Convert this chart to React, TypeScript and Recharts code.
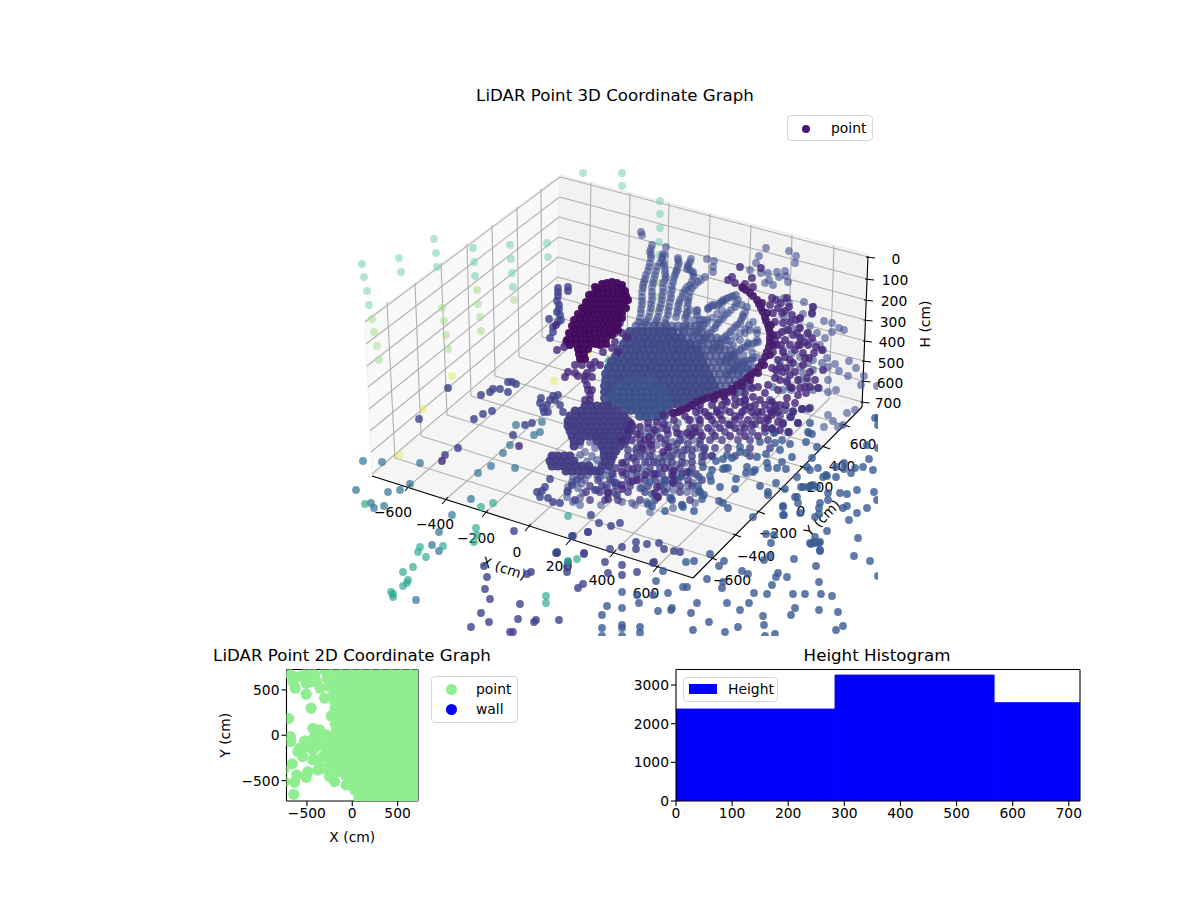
import React from 'react';
import {
  ScatterChart, Scatter, XAxis, YAxis, ReferenceLine, Customized, Legend,
  ComposedChart, Bar,
} from 'recharts';

type P = number[];
const FONT = "'DejaVu Sans', sans-serif";

/* ---------- 3D panel: points as seen in the picture plane ---------- */
const mintPoints: P[] = [[362,264],[364,277],[367,291],[369,305],[399,258],[401,272],[434,239],[436,253],[437,267],[473,248],[474,262],[475,276],[510,245],[511,259],[512,273],[513,287],[547,243],[548,257],[583,173],[622,173],[622,186],[660,201],[660,214],[660,228],[659,242],[659,255]];
const limePoints: P[] = [[372,319],[374,332],[377,346],[379,360],[477,290],[478,304],[480,317],[481,331],[514,300],[442,308],[444,321],[446,335],[448,349],[659,283],[658,297],[658,310]];
const yellowPoints: P[] = [[452,376],[554,381],[588,353],[423,409],[399,455]];
const tealPoints: P[] = [[365,504],[481,507],[493,503],[476,528],[477,535],[474,542],[443,546],[420,547],[418,552],[426,557],[413,567],[403,572],[408,580],[407,583],[403,586],[391,592],[393,594],[393,597],[546,596],[546,603],[577,559],[568,561],[568,516],[609,361],[608,367]];
const steelPoints: P[] = [[363,461],[382,462],[420,463],[356,490],[388,492],[400,490],[410,484],[371,503],[374,508],[384,506],[471,499],[452,515],[478,473],[491,466],[515,468],[432,545],[439,551],[416,600],[439,532],[542,422],[540,432],[534,435],[510,445],[503,453],[516,425]];
const indigoPoints: P[] = [[419,419],[445,455],[458,448],[474,419],[483,414],[492,411],[448,388],[481,395],[490,392],[493,389],[500,389],[508,382],[512,382],[516,384],[508,392],[513,435],[525,425],[532,423],[540,403],[543,408],[547,405],[550,400],[553,396],[548,412],[544,412],[555,400],[558,395],[541,398],[560,405],[563,412],
[484,566],[487,577],[485,589],[490,599],[481,613],[471,627],[489,622],[510,632],[513,632],[518,619],[520,604],[527,574],[531,572],[534,622],[536,620],[559,620],[556,553],[557,552],[568,562],[567,567],[567,572],[583,584],[578,588],[584,554],[573,536],[588,532],[610,549],[622,547],[605,562],[622,565],[608,573],[622,575],[637,572],[636,542],[636,549],[647,544],[664,549],[659,543],[674,551],[680,552],[654,562],[653,563],[514,531],[557,553],[584,553],[572,536],[588,532],[591,515],[599,523],[611,526],[620,523],
[550,479],[545,487],[542,491],[537,492],[540,497],[548,498],[553,502],[560,503],[568,491],[572,485],[577,480],[581,476],[595,490],[607,488],[608,493],[615,483],[617,495],[558,288],[568,287],[568,291],[558,292],[558,296],[557,301],[559,305],[559,309],[557,312],[560,315],[561,320],[558,322],[549,319],[553,327],[553,332],[550,338]];
const bluePoints: P[] = [[663,571],[686,562],[694,561],[710,554],[719,566],[724,561],[656,581],[622,592],[637,595],[653,595],[639,603],[668,593],[683,587],[687,587],[707,579],[607,606],[622,608],[602,615],[602,628],[622,625],[622,628],[640,627],[602,636],[622,636],[640,633],[658,611],[671,610],[672,608],[691,613],[697,603],[709,622],[693,630],[725,632],[738,627],[740,610],[727,603],[749,603],[763,616],[764,625],[765,636],[775,634],[754,593],[767,594],[772,585],[776,577],[778,573],[787,577],[723,582],[722,588],[742,571],[748,574],[764,560],[770,556],[794,559],[816,566],[819,582],[793,594],[805,594],[821,594],[832,596],[795,608],[791,615],[819,610],[838,612],[836,630],[843,626],[854,556],[870,561],[878,576],[858,538],[827,531],[811,544],[814,542],[819,543],[820,551],[815,537],[771,543],[774,535],[766,534],[783,506],[795,497],[798,503],[801,487],[810,487],[784,515],[823,477],[827,476],[836,477],[840,493],[847,494],[857,490],[874,492],[877,500],[867,508],[857,513],[849,520],[847,506],[843,508],[828,493],[828,500],[820,503],[819,508],[819,514],[820,542],[810,543],[815,543],[820,550],[855,468],[851,473],[873,470],[863,467],[875,418],[878,418],[878,425],[878,448],[869,459],[867,445],[844,463],[844,469],[836,467],[818,468],[826,475],[808,487],[813,485],
[810,423],[802,409],[808,409],[793,411],[790,417],[798,423],[788,432],[808,432],[812,434],[782,440],[790,444],[806,442],[817,447],[780,450],[792,457],[812,458],[807,467],[767,463],[782,462],[768,468],[777,468],[786,469],[747,467],[755,470],[746,473],[753,472],[728,468],[723,469],[725,468],[712,470],[690,472],[710,476],[699,477],[736,479],[760,486],[776,483],[785,489],[768,492],[768,495],[735,489],[720,487],[711,481],[698,486],[699,491],[704,495],[702,499],[719,501],[723,503],[728,508],[682,505],[683,507],[694,511],[665,511],[671,498],[658,497],[652,494],[648,504],[652,506],[665,482],[673,482],[673,471],[681,476],[650,482],[642,488],[657,474],[783,507],[800,513],[797,497],[783,515],[753,517],[815,517],[797,477],[803,487],[817,487],[810,470],[716,461],[723,459],[732,458],[703,467],[746,453],[757,457],[766,454],[772,428],[783,424],[775,443],[774,433],[760,442],[740,452],[740,447],[727,455]];
const rayPoints: P[] = [[652,245],[650,252],[651,258],[649,267],[646,275],[644,282],[643,288],[642,297],[642,305],[641,313],[639,322],[663,254],[662,260],[657,267],[655,275],[653,283],[652,292],[652,300],[651,308],[649,317],[645,323],[666,247],[664,263],[665,270],[666,277],[663,283],[663,292],[662,300],[660,308],[658,317],[655,323],[678,258],[679,263],[677,270],[675,275],[673,282],[672,290],[671,298],[669,307],[668,315],[665,323],[691,259],[688,265],[687,269],[693,272],[694,277],[690,285],[685,290],[682,297],[679,303],[678,310],[676,317],[698,282],[692,288],[689,297],[688,303],[687,312],[685,318],[705,277],[707,259],[714,261],[713,267],[713,272],[697,311],[697,315],[695,320],[703,320],[700,325],[736,295],[731,297],[726,299],[721,302],[717,306],[712,305],[708,309],[738,300],[735,307],[728,313],[723,318],[718,323],[715,328],[710,333],[705,338],[700,343],[747,307],[743,317],[740,323],[735,327],[730,332],[725,337],[720,342],[715,347],[758,342],[752,344],[745,347],[740,350],[735,353],[730,357],[725,360],[757,333],[750,330],[757,357],[750,360],[743,363],[738,367],[733,370],[641,232],[642,235],[766,248],[789,251],[796,256],[795,263],[759,256],[756,263],[750,270],[761,273],[768,273],[777,272],[785,271],[779,277],[786,276],[788,282],[769,280],[773,285],[765,283],[804,302],[813,307],[812,314],[803,314],[800,319],[824,321],[832,323],[839,328],[844,330],[832,332],[825,338],[810,326],[799,328],[792,328],[784,298],[789,303],[784,317],[786,330],[801,338],[807,334],[817,333],[813,342],[820,345],[823,350],[827,358],[835,364],[839,371],[848,376],[856,368],[849,361],[864,376],[861,385],[877,386],[836,390],[828,392],[819,388],[813,390],[791,390],[800,380],[807,382],[813,370],[822,363],[808,363],[800,357],[792,353],[783,350],[790,367],[780,363],[777,373],[787,380],[773,387],[783,390],[800,367],[803,373],[813,360],[828,367],[828,380],[855,410],[847,413],[843,425],[833,421],[828,415],[838,427],[824,427],[809,433],
[697,310],[700,320],[708,308],[723,302],[742,305],[743,315],[753,322],[757,330],[745,333],[757,340],[748,343],[740,340],[733,345],[727,340],[752,352],[743,355],[737,360],[730,363],[752,360],[748,368],[740,372],[733,370],[727,375],
[607,470],[605,475],[613,473],[613,477],[597,475],[593,470],[588,475],[585,480],[582,483],[578,488],[573,477],[572,482],[568,487],[567,492],[623,465],[623,475],[632,473],[630,482],[642,468],[640,480],[640,488],[647,472],[648,462],[657,463],[667,462],[677,465],[685,463],[662,482],[667,488],[673,490],[681,477],[690,473],[693,483],[687,492],[695,493],[637,453],[645,455],[653,457],[660,458],[670,457],[678,453],[687,450],[697,448],[637,447],[657,445],[673,442],[683,440],[693,440],[645,433],[657,433],[668,425],[678,423],[688,420],[698,418],[653,428],[597,490],[580,498],[583,493],[601,505],[580,505],[573,502],[567,497],[622,502],[632,503],[635,505],[647,502],[670,498],[650,512],[682,505],[695,503],[673,508],[663,490],[668,480],[688,485],[678,480],[617,483],[605,485],[612,482],[600,478],
[580,445],[590,442],[595,448],[585,452],[592,456],[580,455],[587,462],[597,460],[612,398],[608,392],[610,386]];
const rayTubes: P[] = [[651,249],[651,255],[650,263],[648,271],[645,279],[643,285],[642,292],[642,301],[641,309],[640,318],[662,257],[660,263],[656,271],[654,279],[652,287],[652,296],[651,304],[650,312],[647,320],[665,255],[664,266],[665,274],[665,280],[663,288],[662,296],[661,304],[659,312],[657,320],[678,260],[678,266],[676,272],[674,278],[672,286],[671,294],[670,302],[668,311],[666,319],[690,262],[688,267],[690,270],[693,274],[692,281],[687,287],[683,293],[680,300],[678,306],[677,313],[701,280],[695,285],[690,292],[688,300],[687,307],[686,315],[733,296],[728,298],[723,300],[719,304],[714,305],[710,307],[736,303],[731,310],[725,315],[720,320],[716,325],[712,330],[707,335],[702,340],[697,345],[745,312],[741,320],[737,325],[732,330],[727,335],[722,339],[717,344],[712,350],[755,343],[748,345],[742,348],[737,352],[732,355],[727,358],[722,362],[753,358],[746,361],[740,365],[735,368],[730,372],[749,325],[745,329],[740,333],[735,337],[730,341],[725,345],[720,349],[707,320],[703,325],[698,330],[693,335],[722,310],[717,314],[712,318],[707,323],[703,328],[698,333],[690,310],[688,318],[686,325],[683,330]];
const lowerLattice: P[] = [[625,444],[641,444],[649,444],[665,444],[677,444],[688,444],[700,444],[628,450],[636,450],[644,450],[652,450],[668,450],[676,450],[684,450],[692,450],[704,450],[628,456],[640,456],[650,456],[664,456],[672,456],[682,456],[692,456],[702,456],[712,456],[626,462],[636,462],[645,462],[654,462],[662,462],[672,462],[682,462],[692,462],[702,462],[616,468],[628,468],[638,468],[650,468],[660,468],[670,468],[680,468],[692,468],[612,474],[626,474],[637,474],[652,474],[662,474],[672,474],[682,474],[696,474],[598,480],[610,480],[628,480],[645,480],[655,480],[665,480],[675,480],[688,480],[702,480],[590,486],[602,486],[616,486],[630,486],[648,486],[660,486],[680,486],[692,486],[586,492],[600,492],[614,492],[628,492],[645,492],[665,492],[680,492],[700,492],[575,500],[590,500],[605,500],[618,500],[640,500],[655,500],[672,500],[690,500],[725,400],[745,400],[770,400],[700,410],[725,410],[745,410],[775,410],[785,410],[710,416],[735,416],[755,416],[780,416],[700,424],[715,424],[728,424],[742,424],[755,424],[765,424],[700,432],[712,432],[725,432],[740,432],[752,432],[765,432],[775,432],[700,440],[710,440],[722,440],[738,440],[750,440],[768,440],[705,448],[715,448],[728,448],[750,448],[770,448],[705,456],[712,456],[735,456],[750,456],[632,428],[648,428],[662,428],[676,428],[690,428],[628,434],[640,434],[652,434],[668,434],[680,434],[692,434],[640,440],[652,440],[666,440],[680,440]];
const fanOuter: P[] = [[678,332],[684,332],[690,332],[696,332],[702,332],[636,326],[642,326],[648,326],[654,326],[660,326],[666,326],[672,326],[678,326],[684,326],[690,326],[696,326],[687,338],[693,338],[699,338],[705,338],[711,338],[717,338],[696,344],[702,344],[708,344],[714,344],[720,344],[701,350],[707,350],[713,350],[719,350],[725,350],[731,350],[704,356],[710,356],[716,356],[722,356],[728,356],[734,356],[708,362],[714,362],[720,362],[726,362],[732,362],[738,362],[744,362],[711,368],[717,368],[723,368],[729,368],[735,368],[741,368],[747,368],[753,368],[714,374],[720,374],[726,374],[732,374],[738,374],[744,374],[750,374],[717,380],[723,380],[729,380],[735,380],[741,380],[747,380],[720,386],[726,386],[732,386],[738,386],[744,386],[750,386],[723,392],[729,392],[735,392],[741,392]];
const fanMid: P[] = [[630,332],[636,332],[642,332],[648,332],[654,332],[660,332],[666,332],[672,332],[627,338],[633,338],[639,338],[645,338],[651,338],[657,338],[663,338],[669,338],[675,338],[681,338],[624,344],[630,344],[636,344],[642,344],[648,344],[654,344],[660,344],[666,344],[672,344],[678,344],[684,344],[690,344],[619,350],[625,350],[631,350],[637,350],[643,350],[649,350],[655,350],[661,350],[667,350],[673,350],[679,350],[685,350],[691,350],[697,350],[616,356],[622,356],[628,356],[634,356],[640,356],[646,356],[652,356],[658,356],[664,356],[670,356],[676,356],[682,356],[688,356],[694,356],[700,356],[612,362],[618,362],[624,362],[630,362],[636,362],[642,362],[648,362],[654,362],[660,362],[666,362],[672,362],[678,362],[684,362],[690,362],[696,362],[702,362],[609,368],[615,368],[621,368],[627,368],[633,368],[639,368],[645,368],[651,368],[657,368],[663,368],[669,368],[675,368],[681,368],[687,368],[693,368],[699,368],[705,368],[606,374],[612,374],[618,374],[624,374],[630,374],[636,374],[642,374],[648,374],[654,374],[660,374],[666,374],[672,374],[678,374],[684,374],[690,374],[696,374],[702,374],[708,374],[606,380],[612,380],[618,380],[624,380],[657,380],[663,380],[669,380],[675,380],[681,380],[687,380],[693,380],[699,380],[705,380],[711,380],[605,386],[611,386],[666,386],[672,386],[678,386],[684,386],[690,386],[696,386],[702,386],[708,386],[714,386],[605,392],[611,392],[669,392],[675,392],[681,392],[687,392],[693,392],[699,392],[705,392],[711,392],[717,392],[605,398],[672,398],[678,398],[684,398],[690,398],[696,398],[702,398],[672,404],[678,404],[684,404],[690,404]];
const fanInner: P[] = [[630,380],[636,380],[642,380],[648,380],[620,386],[626,386],[632,386],[638,386],[644,386],[650,386],[656,386],[660,386],[617,392],[623,392],[629,392],[635,392],[641,392],[647,392],[653,392],[659,392],[665,392],[612,398],[618,398],[624,398],[630,398],[636,398],[642,398],[648,398],[654,398],[660,398],[666,398],[612,404],[618,404],[624,404],[630,404],[636,404],[642,404],[648,404],[654,404],[660,404],[666,404],[625,410],[631,410],[637,410],[643,410],[649,410],[655,410],[661,410],[667,410],[640,416],[646,416],[652,416],[658,416],[664,416]];
const fanLower: P[] = [[585,406],[591,406],[597,406],[603,406],[608,406],[575,411],[581,411],[587,411],[593,411],[599,411],[605,411],[611,411],[617,411],[570,416],[576,416],[582,416],[588,416],[594,416],[600,416],[606,416],[612,416],[618,416],[624,416],[568,421],[574,421],[580,421],[586,421],[592,421],[598,421],[604,421],[610,421],[616,421],[622,421],[628,421],[568,426],[573,426],[579,426],[585,426],[591,426],[597,426],[603,426],[609,426],[615,426],[621,426],[627,426],[632,426],[570,431],[576,431],[582,431],[588,431],[594,431],[600,431],[606,431],[612,431],[618,431],[624,431],[630,431],[572,436],[578,436],[584,436],[590,436],[596,436],[602,436],[608,436],[614,436],[620,436],[627,436],[574,441],[580,441],[597,441],[603,441],[609,441],[615,441],[621,441],[625,441],[574,446],[602,446],[608,446],[614,446],[620,446],[604,451],[610,451],[616,451],[552,456],[558,456],[564,456],[570,456],[604,456],[610,456],[613,456],[550,461],[556,461],[562,461],[568,461],[574,461],[605,461],[611,461],[552,466],[558,466],[564,466],[570,466],[576,466],[582,466],[589,466],[602,466],[609,466],[566,471],[572,471],[578,471],[584,471],[590,471],[596,471],[600,471]];
const purplePoints: P[] = [[557,350],[564,347],[566,342],[556,325],[442,461],[519,446],[603,352],[612,348],[618,352],[622,333],[627,337],[615,333],[620,323],[615,342],[582,365],[575,365],[590,365],[595,362],[600,365],[592,368],[568,372],[575,373],[565,377],[578,376],[585,376],[592,377],[587,373],[585,380],[587,385],[588,390],[590,395],[590,400],[585,400],[592,390],[740,267],[761,268],[732,277],[728,280],[735,283],[752,278],[745,284],[753,287],[742,287],
[631,423],[640,427],[648,423],[657,422],[663,415],[672,413],[680,411],[687,408],[693,406],[622,440],[632,440],[649,437],[660,438],[667,430],[677,433],[687,433],[695,432],[642,448],[651,445],[663,452],[669,447],[633,458],[622,463],[655,474],[674,471],[665,468],[633,469],[622,472],[645,475],[622,485],[622,489],[608,493],[608,499],[637,480],[633,481],[657,487],[658,497],[655,493],[673,476],[673,483],[687,472],
[700,405],[712,405],[722,405],[735,405],[745,405],[755,405],[765,405],[775,405],[705,412],[717,412],[730,412],[742,412],[752,412],[762,412],[772,412],[690,420],[700,420],[712,420],[722,420],[735,420],[748,420],[760,420],[768,420],[695,428],[708,428],[720,428],[735,428],[745,428],[690,436],[702,436],[715,436],[730,436],[745,436],[758,436],
[773,352],[778,360],[780,367],[772,368],[775,378],[780,380],[778,390],[787,382],[792,388],[787,398],[780,405],[772,402],[765,393],[768,385],[758,387],[753,397],[745,393],[740,402],[750,407],[758,412],[767,418],[778,422],[772,415],[777,345],[783,352],[790,360],[782,332],[788,330],[783,323],[775,322],[773,313],[778,308],[770,305],[772,298],[782,313],[790,322],[800,338],[805,342],[798,345],[803,353],[805,358],[793,363],[807,378],[805,387],[790,387],[798,395],[787,298],[789,307],[812,313],[813,307],[800,318],[808,333],[800,328],[816,347],[814,353],[822,350],[823,370],[809,358],[818,388],[810,387],[806,393],[800,388],[802,409],[810,408],[793,412],[791,417],[798,423],[783,423],[772,429],[780,430],[789,432],
[776,300],[781,303],[785,311],[792,315],[796,320],[793,335],[797,333],[785,340],[790,345],[795,350],[785,357],[800,345],[808,345],[812,338],[778,335],[775,340],[781,345],[786,368],[795,372],[803,365],[810,372],[815,380],[798,380],[790,375],[783,372],[776,370],[786,405],[778,412],[795,403],[770,410],[760,400],[752,388],[745,400],[735,398],[727,402],[717,410],[708,416],[696,412],[685,416],[674,420],[664,424],[655,430],[645,440],[637,434],[628,430],[720,415],[730,425],[740,416],[752,425],[765,428]];
const arcPoints: P[] = [[743,288],[746,290],[750,293],[753,296],[757,300],[759,304],[761,308],[763,312],[765,317],[766,321],[768,325],[769,329],[770,333],[770,338],[770,342],[769,347],[767,352],[765,357],[762,362],[759,367],[755,372],[751,375],[747,378],[742,382],[737,385],[732,389],[727,392],[722,393],[717,395],[712,397],[707,398],[702,400],[697,402],[692,405],[687,408],[682,410],[678,412],[674,413],[762,303],[767,313],[771,325],[773,335],[773,345],[770,355],[764,365],[758,373],[750,380],[742,386],[733,391],[724,396],[714,399]];
const blobPoints: P[] = [[602,284],[607,283],[612,282],[617,283],[622,285],[597,289],[602,289],[607,289],[612,288],[617,288],[622,289],[625,291],[593,294],[598,294],[603,294],[608,294],[613,294],[618,294],[623,294],[626,296],[591,299],[596,299],[601,299],[606,299],[611,299],[616,299],[621,299],[625,301],[588,304],[593,304],[598,304],[603,304],[608,304],[613,304],[618,304],[623,304],[585,309],[590,309],[595,309],[600,309],[605,309],[610,309],[615,309],[620,309],[583,314],[588,314],[593,314],[598,314],[603,314],[608,314],[613,314],[618,314],[622,313],[580,319],[585,319],[590,319],[595,319],[600,319],[605,319],[610,319],[615,319],[619,319],[578,324],[583,324],[588,324],[593,324],[598,324],[603,324],[608,324],[613,324],[618,324],[575,329],[580,329],[585,329],[590,329],[595,329],[600,329],[605,329],[610,329],[614,329],[574,334],[579,334],[584,334],[589,334],[594,334],[599,334],[604,334],[609,334],[571,339],[576,339],[581,339],[586,339],[591,339],[596,339],[601,339],[606,339],[576,344],[581,344],[586,344],[591,344],[596,344],[578,349],[583,349],[588,349],[579,354],[584,354],[580,359],[585,359],[595,287],[589,295],[586,302],[582,308],[578,314],[574,320],[572,326],[569,333],[567,340],[570,345],[600,345],[606,344],[612,335],[618,330],[622,318],[626,308],[628,300]];

/* ---------- 3D panel: frame ---------- */
const wallLeft: P[] = [[365,320],[560,175],[556,322],[372,476]];
const wallBack: P[] = [[560,175],[868,254],[862,407],[556,322]];
const wallFloor: P[] = [[372,476],[556,322],[862,407],[693,578]];
const heightLeft: P[] = [[365,322],[366,344],[367,366],[368,387],[369,409],[370,431],[371,452],[372,474]];
const heightBack: P[] = [[560,177],[559.5,197],[559,217],[558.5,237],[558,257],[557.5,277],[557,297],[556.5,317]];
const heightRight: P[] = [[868,257],[867,279],[866,300],[865.5,320],[865,341],[864,361],[863.5,381],[862.5,402]];
const yWallTop: P[] = [[387,302],[415,283],[441,263],[467,244],[492,225],[517,207],[541,189]];
const yFloorBack: P[] = [[395,458],[421,436],[447,415],[471,396],[495,376],[519,357],[542,337]];
const yFloorFront: P[] = [[712,558],[736,535],[760,512],[782,489],[803,467],[825,447],[845,425]];
const xFloorFront: P[] = [[408,487],[445,500],[485,513],[528,527],[569,541],[613,553],[656,568]];
const xFloorBack: P[] = [[588,331],[627,342],[666,353],[706,364],[746,375],[787,387],[829,399]];
const xWallTop: P[] = [[591,183],[630,193],[669,203],[710,214],[751,225],[792,235],[834,246]];
const axisCorners: P[] = [[372,476],[693,578],[862,407],[868,256]];

const xTickLabels = ['−600','−400','−200','0','200','400','600'];
const xTickSpots: P[] = [[393,512],[435,524],[476,538],[517,552],[559,566],[602,580],[646,593]];
const yTickLabels = ['−600','−400','−200','0','200','400','600'];
const yTickSpots: P[] = [[732,580],[756,556],[778,533],[801,511],[820,487],[842,466],[863,444]];
const hTickLabels = ['0','100','200','300','400','500','600','700'];
const hTickSpots: P[] = [[896,259],[895,280],[894,301],[893,322],[892,342],[891,363],[890,383],[888,403]];

/* ---------- 2D panel (cm) ---------- */
const scatter2dBlobs: P[] = [[-673,666],[-581,648],[-508,684],[-434,684],[-710,684],[-655,592],[-629,519],[-508,574],[-453,592],[-508,453],[-453,298],[-703,184],[-232,213],[-434,77],[-361,59],[-287,4],[-681,-15],[-681,-70],[-526,-63],[-581,-144],[-508,-125],[-434,-162],[-545,-236],[-600,-180],[-361,-107],[-379,-272],[-489,-401],[-508,-464],[-611,-438],[-662,-316],[-637,-519],[-644,-651],[-195,-511],[-66,-548],[-379,-383],[-250,-456],[-434,-272],[-287,-162],[-213,-199],[-324,-236],[-305,-364],[-416,-15],[-471,-70],[-353,-33],[-758,-383],[-747,-511],[-416,666],[-397,592],[-353,519],[-305,408],[-416,620]];
const scatter2dBody: P[] = [[-290,715],[-180,715],[-70,715],[40,715],[150,715],[260,715],[370,715],[480,715],[590,715],[700,715],[-265,630],[-125,630],[-15,630],[95,630],[205,630],[315,630],[425,630],[535,630],[645,630],[725,630],[-240,545],[-180,545],[-70,545],[40,545],[150,545],[260,545],[370,545],[480,545],[590,545],[700,545],[-190,460],[-125,460],[-15,460],[95,460],[205,460],[315,460],[425,460],[535,460],[645,460],[725,460],[-180,375],[-70,375],[40,375],[150,375],[260,375],[370,375],[480,375],[590,375],[700,375],[-180,290],[-125,290],[-15,290],[95,290],[205,290],[315,290],[425,290],[535,290],[645,290],[725,290],[-180,205],[-70,205],[40,205],[150,205],[260,205],[370,205],[480,205],[590,205],[700,205],[-175,120],[-125,120],[-15,120],[95,120],[205,120],[315,120],[425,120],[535,120],[645,120],[725,120],[-165,35],[-70,35],[40,35],[150,35],[260,35],[370,35],[480,35],[590,35],[700,35],[-240,-50],[-125,-50],[-15,-50],[95,-50],[205,-50],[315,-50],[425,-50],[535,-50],[645,-50],[725,-50],[-240,-135],[-180,-135],[-70,-135],[40,-135],[150,-135],[260,-135],[370,-135],[480,-135],[590,-135],[700,-135],[-280,-220],[-125,-220],[-15,-220],[95,-220],[205,-220],[315,-220],[425,-220],[535,-220],[645,-220],[725,-220],[-240,-305],[-180,-305],[-70,-305],[40,-305],[150,-305],[260,-305],[370,-305],[480,-305],[590,-305],[700,-305],[-180,-390],[-125,-390],[-15,-390],[95,-390],[205,-390],[315,-390],[425,-390],[535,-390],[645,-390],[725,-390],[-60,-440],[40,-475],[150,-475],[260,-475],[370,-475],[480,-475],[590,-475],[700,-475],[25,-540],[95,-560],[205,-560],[315,-560],[425,-560],[535,-560],[645,-560],[725,-560],[40,-600],[150,-645],[260,-645],[370,-645],[480,-645],[590,-645],[700,-645],[85,-690],[205,-725],[315,-725],[425,-725],[535,-725],[645,-725],[725,-725]];
const ticks2d = [-500, 0, 500];

/* ---------- Histogram ---------- */
const binCentres = [141.7, 425.2, 708.7];
const binCounts = [2377, 3256, 2540];
const histXTicks = [0, 100, 200, 300, 400, 500, 600, 700];
const histYTicks = [0, 1000, 2000, 3000];

const rows = (pts: P[]) => pts.map(([u, v]) => ({ u, v }));
const poly = (pts: P[]) => pts.map((p) => p.join(',')).join(' ');
const tickStyle = { fontSize: 13.89, fill: '#000', fontFamily: FONT };
const axisStroke = { stroke: '#000', strokeWidth: 1.1 };
const minus = (v: number) => String(v).replace('-', '−');

const seg = (a: P, b: P, key: string, color: string) => (
  <line key={key} x1={a[0]} y1={a[1]} x2={b[0]} y2={b[1]} stroke={color} strokeWidth={1.1} />
);

const Frame3d = () => (
  <g>
    <polygon points={poly(wallLeft)} fill="#f9f9f9" stroke="#f0f0f0" strokeWidth={1} />
    <polygon points={poly(wallBack)} fill="#f2f2f2" stroke="#ebebeb" strokeWidth={1} />
    <polygon points={poly(wallFloor)} fill="#f5f5f5" stroke="#f0f0f0" strokeWidth={1} />
    {heightLeft.map((p, i) => seg(p, heightBack[i], 'hl' + i, '#b0b0b0'))}
    {heightBack.map((p, i) => seg(p, heightRight[i], 'hb' + i, '#b0b0b0'))}
    {yWallTop.map((p, i) => seg(p, yFloorBack[i], 'yw' + i, '#b0b0b0'))}
    {yFloorBack.map((p, i) => seg(p, yFloorFront[i], 'yf' + i, '#b0b0b0'))}
    {xFloorFront.map((p, i) => seg(p, xFloorBack[i], 'xf' + i, '#b0b0b0'))}
    {xFloorBack.map((p, i) => seg(p, xWallTop[i], 'xw' + i, '#b0b0b0'))}
    {axisCorners.slice(1).map((p, i) => seg(axisCorners[i], p, 'ax' + i, '#000'))}
    {xFloorFront.map((p, i) => seg([p[0] + 3, p[1] - 3], [p[0] - 3, p[1] + 4], 'xt' + i, '#000'))}
    {yFloorFront.map((p, i) => seg([p[0] - 3, p[1] - 1], [p[0] + 5, p[1] + 2], 'yt' + i, '#000'))}
    {heightRight.map((p, i) => seg([p[0] - 2, p[1]], [p[0] + 7, p[1] + 1], 'ht' + i, '#000'))}
  </g>
);

const Labels3d = () => {
  const t = { fontSize: 13.89, fill: '#000', fontFamily: FONT, textAnchor: 'middle' as const, dominantBaseline: 'central' as const };
  return (
    <g>
      {xTickLabels.map((s, i) => <text key={'x' + i} x={xTickSpots[i][0]} y={xTickSpots[i][1]} {...t}>{s}</text>)}
      {yTickLabels.map((s, i) => <text key={'y' + i} x={yTickSpots[i][0]} y={yTickSpots[i][1]} {...t}>{s}</text>)}
      {hTickLabels.map((s, i) => <text key={'h' + i} x={hTickSpots[i][0]} y={hTickSpots[i][1]} {...t}>{s}</text>)}
      <text x={504} y={568} {...t} transform="rotate(18 504 568)">X (cm)</text>
      <text x={822} y={518} {...t} transform="rotate(-46 822 518)">Y (cm)</text>
      <text x={925} y={324} {...t} transform="rotate(-90 925 324)">H (cm)</text>
    </g>
  );
};

const legendBox: React.CSSProperties = {
  background: 'rgba(255,255,255,0.8)', border: '1px solid #d5d5d5', borderRadius: 4, boxSizing: 'border-box',
  fontFamily: FONT, fontSize: 13.89, color: '#000', position: 'relative',
};
const dot = (left: number, top: number, size: number, color: string): React.CSSProperties => ({
  position: 'absolute', left, top, width: size, height: size, borderRadius: '50%', background: color,
});
const lbl = (left: number, top: number): React.CSSProperties => ({ position: 'absolute', left, top, lineHeight: '16px' });
const title = (left: number, top: number, width: number): React.CSSProperties => ({
  position: 'absolute', left, top, width, textAlign: 'center', fontFamily: FONT, fontSize: 16.67, lineHeight: '20px', color: '#000', whiteSpace: 'nowrap',
});

const Legend3d = () => (
  <div style={{ ...legendBox, width: 86, height: 26 }}>
    <span style={dot(14, 8.5, 8, '#47196f')} />
    <span style={lbl(43, 3.5)}>point</span>
  </div>
);
const Legend2d = () => (
  <div style={{ ...legendBox, width: 87, height: 47 }}>
    <span style={dot(14, 7, 11, '#90ee90')} />
    <span style={lbl(44, 3.5)}>point</span>
    <span style={dot(14, 27, 11, '#0000ff')} />
    <span style={lbl(44, 23.5)}>wall</span>
  </div>
);
const LegendHist = () => (
  <div style={{ ...legendBox, width: 95, height: 25 }}>
    <span style={{ position: 'absolute', left: 5, top: 6, width: 28, height: 10, background: '#0000ff' }} />
    <span style={lbl(44, 3.5)}>Height</span>
  </div>
);

const circleOf = (r: number) => (props: any) => (
  <circle cx={props.cx} cy={props.cy} r={r} fill={props.fill} fillOpacity={props.fillOpacity} />
);

const series3d: [string, P[], string, number, number][] = [
  ['mint', mintPoints, '#73d0b2', 0.55, 3.9],
  ['lime', limePoints, '#a5dc86', 0.55, 3.9],
  ['yellow', yellowPoints, '#e9e94e', 0.5, 3.9],
  ['rays', rayPoints, '#3f4f90', 0.6, 3.9],
  ['tubes', rayTubes, '#3f4f90', 0.55, 3.9],
  ['lattice', lowerLattice, '#463f88', 0.78, 3.9],
  ['steel', steelPoints, '#2f7295', 0.7, 3.9],
  ['blue', bluePoints, '#3a5a92', 0.8, 3.9],
  ['indigo', indigoPoints, '#40468c', 0.82, 3.9],
  ['teal', tealPoints, '#2aa98f', 0.68, 3.9],
  ['fanOuter', fanOuter, '#45508c', 0.72, 4.5],
  ['fanMid', fanMid, '#414a88', 0.94, 5],
  ['fanInner', fanInner, '#3e528a', 0.94, 5],
  ['fanLower', fanLower, '#433d84', 0.94, 4.5],
  ['purple', purplePoints, '#472a7c', 0.82, 3.9],
  ['arc', arcPoints, '#481c6e', 0.92, 4],
  ['blob', blobPoints, '#440a5e', 0.96, 4],
];

export default function App() {
  return (
    <div style={{ position: 'absolute', left: 0, top: 0, width: 1200, height: 900, background: '#fff', overflow: 'hidden' }}>
      <div style={title(0, 86, 1230)}>LiDAR Point 3D Coordinate Graph</div>

      <div style={{ position: 'absolute', left: 0, top: 0 }}>
        <ScatterChart width={1200} height={640} margin={{ top: 0, right: 0, bottom: 0, left: 0 }}>
          <XAxis type="number" dataKey="u" domain={[0, 1200]} hide />
          <YAxis type="number" dataKey="v" domain={[0, 640]} reversed hide />
          <Customized component={<Frame3d />} />
          <Customized component={<Labels3d />} />
          <Legend verticalAlign="middle" align="center" layout="horizontal" content={<Legend3d />} wrapperStyle={{ left: 787, top: 115, width: 86, height: 26 }} />
        </ScatterChart>
      </div>

      <div style={{ position: 'absolute', left: 0, top: 0 }}>
        <ScatterChart width={878} height={636} margin={{ top: 0, right: 0, bottom: 0, left: 0 }}>
          <XAxis type="number" dataKey="u" domain={[0, 878]} hide />
          <YAxis type="number" dataKey="v" domain={[0, 636]} reversed hide />
          {series3d.map(([name, pts, color, op, r]) => (
            <Scatter key={name} name={name} data={rows(pts)} fill={color} fillOpacity={op} shape={circleOf(r)} isAnimationActive={false} />
          ))}
        </ScatterChart>
      </div>

      <div style={title(152, 646, 400)}>LiDAR Point 2D Coordinate Graph</div>
      <div style={{ position: 'absolute', left: 196, top: 660 }}>
        <ScatterChart width={330} height={190} margin={{ top: 9.5, right: 108, left: 0, bottom: 7 }}>
          <XAxis type="number" dataKey="u" domain={[-725, 725]} ticks={ticks2d} tickFormatter={minus} allowDataOverflow height={42} tick={tickStyle} tickSize={5} tickMargin={2} axisLine={axisStroke} tickLine={axisStroke}
            label={{ value: 'X (cm)', position: 'insideBottom', offset: 1, style: { ...tickStyle } }} />
          <YAxis type="number" dataKey="v" domain={[-725, 725]} ticks={ticks2d} tickFormatter={minus} allowDataOverflow width={90.5} tick={tickStyle} tickSize={5} tickMargin={2} axisLine={axisStroke} tickLine={axisStroke}
            label={{ value: 'Y (cm)', angle: -90, position: 'insideLeft', offset: 29, style: { ...tickStyle, textAnchor: 'middle' } }} />
          <Scatter name="point" data={rows(scatter2dBlobs)} fill="#90ee90" shape={circleOf(5.6)} isAnimationActive={false} />
          <Scatter name="point body" data={rows(scatter2dBody)} fill="#90ee90" shape={circleOf(6.6)} isAnimationActive={false} />
          <ReferenceLine y={725} stroke="#000" strokeWidth={1.1} />
          <ReferenceLine x={725} stroke="#000" strokeWidth={1.1} />
          <Legend verticalAlign="middle" align="center" layout="horizontal" content={<Legend2d />} wrapperStyle={{ left: 235, top: 16, width: 87, height: 47 }} />
        </ScatterChart>
      </div>

      <div style={title(677, 646, 400)}>Height Histogram</div>
      <div style={{ position: 'absolute', left: 606, top: 660 }}>
        <ComposedChart width={484} height={170} data={binCentres.map((c, i) => ({ c, n: binCounts[i] }))} margin={{ top: 9.5, right: 10, left: 0, bottom: 0 }}>
          <XAxis type="number" dataKey="c" domain={[0, 720]} ticks={histXTicks} allowDataOverflow height={29} tick={tickStyle} tickSize={5} tickMargin={2} axisLine={axisStroke} tickLine={axisStroke} />
          <YAxis type="number" domain={[0, 3400]} ticks={histYTicks} allowDataOverflow width={70} tick={tickStyle} tickSize={5} tickMargin={2} axisLine={axisStroke} tickLine={axisStroke} />
          <Bar dataKey="n" name="Height" fill="#0000ff" stroke="#0000ff" strokeWidth={1} barSize={159} isAnimationActive={false} />
          <ReferenceLine y={3400} stroke="#000" strokeWidth={1.1} />
          <ReferenceLine x={720} stroke="#000" strokeWidth={1.1} />
          <Legend verticalAlign="middle" align="center" layout="horizontal" content={<LegendHist />} wrapperStyle={{ left: 77, top: 16.5, width: 95, height: 25 }} />
        </ComposedChart>
      </div>
    </div>
  );
}
